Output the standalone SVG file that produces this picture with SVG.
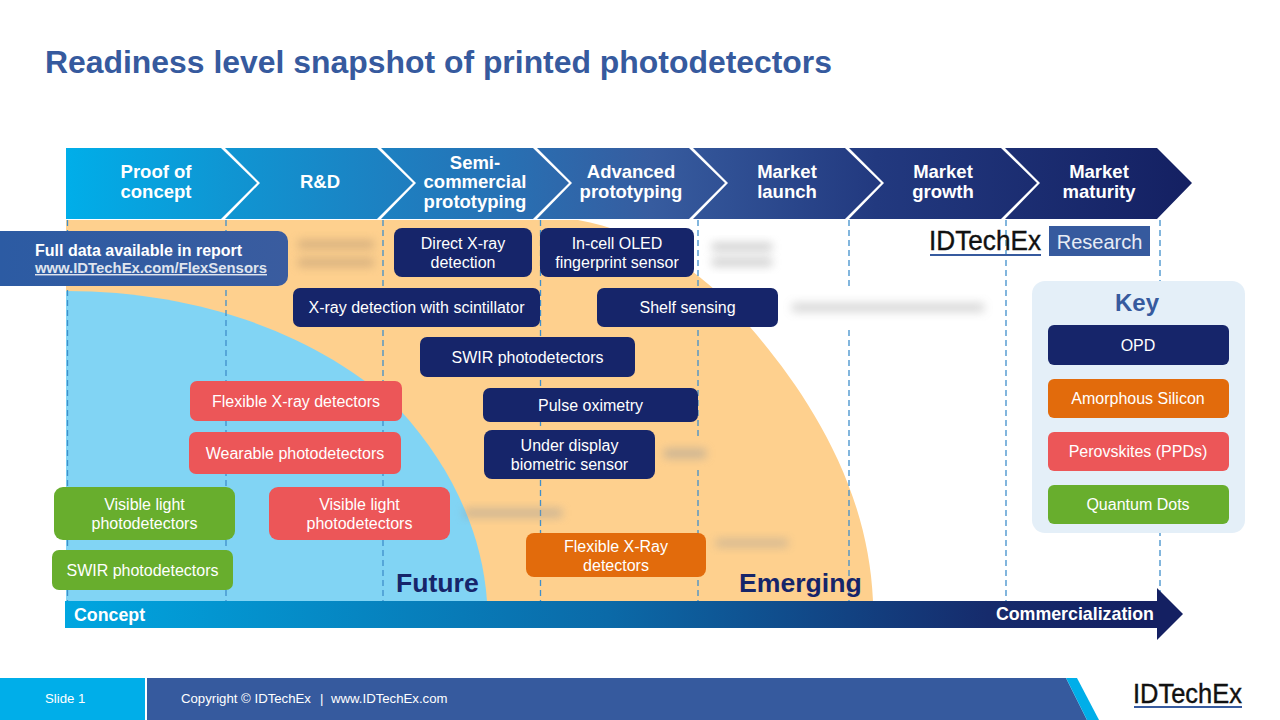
<svg xmlns="http://www.w3.org/2000/svg" width="1280" height="720" viewBox="0 0 1280 720">
<style>
text{font-family:"Liberation Sans",Arial,sans-serif;}
.st{font-size:18.5px;font-weight:700;fill:#fff;text-anchor:middle}
.n{font-size:16px;fill:#fff;text-anchor:middle}
.opd{fill:#16256a}.red{fill:#ec5658}.grn{fill:#68ae2d}.org{fill:#e26b0c}
.dash{stroke:#3f8fcb;stroke-width:1.3;stroke-dasharray:6 4;fill:none}
.blot{fill:#9a9a9a;filter:url(#b)}
.blotw{fill:#c9a67a;filter:url(#b)}
</style>
<defs>
<linearGradient id="g" gradientUnits="userSpaceOnUse" x1="66" y1="0" x2="1192" y2="0"><stop offset="0" stop-color="#00aee9"/><stop offset="0.14" stop-color="#0f96d3"/><stop offset="0.36" stop-color="#2475b8"/><stop offset="0.52" stop-color="#375c9f"/><stop offset="0.72" stop-color="#22397f"/><stop offset="1" stop-color="#142062"/></linearGradient>
<linearGradient id="ga" gradientUnits="userSpaceOnUse" x1="65" y1="0" x2="1150" y2="0"><stop offset="0" stop-color="#00a6e0"/><stop offset="0.5" stop-color="#0b6aa8"/><stop offset="0.85" stop-color="#162b6c"/><stop offset="1" stop-color="#142062"/></linearGradient>
<linearGradient id="gb" x1="0" y1="0" x2="1" y2="0"><stop offset="0" stop-color="#2c5ba3"/><stop offset="1" stop-color="#3a5c9f"/></linearGradient>
<filter id="b" x="-30%" y="-100%" width="160%" height="300%"><feGaussianBlur stdDeviation="5"/></filter>
</defs>
<rect width="1280" height="720" fill="#fff"/>
<text x="45" y="73" font-size="32" font-weight="700" fill="#365a9e" textLength="787" lengthAdjust="spacingAndGlyphs">Readiness level snapshot of printed photodetectors</text>

<g id="regions">
<path d="M66 220H578C645 232 705 272 750 327C800 385 868 480 873 601H66Z" fill="#fed08e"/>
<path d="M66 291C200 291 320 335 400 410C450 465 482 530 487 601H66Z" fill="#81d4f4"/>
</g>

<g id="grid">
<path class="dash" d="M67.500 220V601M226 220V601M383 220V601M540.500 220V601M698 220V601M849 220V601M1006 220V601M1160 220V601"/>
</g>

<g id="blurred">
<rect x="703" y="228" width="80" height="50" fill="#fff" opacity=".9"/>
<rect x="782" y="288" width="214" height="38" fill="#fff"/>
<rect x="660" y="440" width="50" height="30" fill="#fed08e"/>
<rect class="blotw" x="298" y="240" width="76" height="9" opacity=".75"/>
<rect class="blotw" x="298" y="258" width="76" height="9" opacity=".75"/>
<rect class="blot" x="712" y="243" width="60" height="8" opacity=".5"/>
<rect class="blot" x="712" y="258" width="60" height="8" opacity=".5"/>
<rect class="blot" x="792" y="303" width="192" height="9" opacity=".4"/>
<rect class="blot" x="664" y="449" width="42" height="9" opacity=".55"/>
<rect class="blot" x="464" y="509" width="98" height="8" opacity=".55"/>
<rect class="blot" x="716" y="539" width="72" height="8" opacity=".45"/>
</g>

<g id="stages" fill="url(#g)">
<path d="M66 148H221L257 183L221 219H66Z"/>
<path d="M225 148H377L413 183L377 219H225L260 183Z"/>
<path d="M381 148H533L569 183L533 219H381L416 183Z"/>
<path d="M537 148H689L725 183L689 219H537L572 183Z"/>
<path d="M693 148H845L881 183L845 219H693L728 183Z"/>
<path d="M849 148H1001L1037 183L1001 219H849L884 183Z"/>
<path d="M1005 148H1157L1192 183L1157 219H1005L1040 183Z"/>
<text class="st"><tspan x="156" y="178">Proof of</tspan><tspan x="156" y="198">concept</tspan></text>
<text class="st" x="320" y="188">R&amp;D</text>
<text class="st"><tspan x="475" y="169">Semi-</tspan><tspan x="475" y="188">commercial</tspan><tspan x="475" y="208">prototyping</tspan></text>
<text class="st"><tspan x="631" y="178">Advanced</tspan><tspan x="631" y="198">prototyping</tspan></text>
<text class="st"><tspan x="787" y="178">Market</tspan><tspan x="787" y="198">launch</tspan></text>
<text class="st"><tspan x="943" y="178">Market</tspan><tspan x="943" y="198">growth</tspan></text>
<text class="st"><tspan x="1099" y="178">Market</tspan><tspan x="1099" y="198">maturity</tspan></text>
</g>

<g id="banner">
<path d="M0 231H278a10 10 0 0 1 10 10V276a10 10 0 0 1 -10 10H0Z" fill="url(#gb)"/>
<text x="35" y="256" font-size="16" font-weight="700" fill="#fff">Full data available in report</text>
<text x="35" y="273" font-size="14.300" font-weight="700" fill="#dfe4ee" text-decoration="underline" textLength="232" lengthAdjust="spacingAndGlyphs">www.IDTechEx.com/FlexSensors</text>
</g>

<g id="n-direct-xray"><rect class="opd" x="394" y="228" width="138" height="49" rx="8"/><text class="n"><tspan x="463" y="249">Direct X-ray</tspan><tspan x="463" y="268">detection</tspan></text></g>
<g id="n-incell"><rect class="opd" x="540" y="228" width="154" height="49" rx="8"/><text class="n"><tspan x="617" y="249">In-cell OLED</tspan><tspan x="617" y="268">fingerprint sensor</tspan></text></g>
<g id="n-scint"><rect class="opd" x="293" y="288" width="247" height="39" rx="7"/><text class="n" x="416.500" y="313">X-ray detection with scintillator</text></g>
<g id="n-shelf"><rect class="opd" x="597" y="288" width="181" height="39" rx="7"/><text class="n" x="687.500" y="313">Shelf sensing</text></g>
<g id="n-swir-opd"><rect class="opd" x="420" y="337" width="215" height="40" rx="7"/><text class="n" x="527.500" y="363">SWIR photodetectors</text></g>
<g id="n-pulse"><rect class="opd" x="483" y="388" width="215" height="34" rx="7"/><text class="n" x="590.500" y="411">Pulse oximetry</text></g>
<g id="n-under"><rect class="opd" x="484" y="430" width="171" height="49" rx="8"/><text class="n"><tspan x="569.500" y="451">Under display</tspan><tspan x="569.500" y="470">biometric sensor</tspan></text></g>
<g id="n-flex-xray-ppd"><rect class="red" x="190" y="381" width="212" height="40" rx="7"/><text class="n" x="296" y="407">Flexible X-ray detectors</text></g>
<g id="n-wearable"><rect class="red" x="189" y="432" width="212" height="42" rx="7"/><text class="n" x="295" y="459">Wearable photodetectors</text></g>
<g id="n-visible-qd"><rect class="grn" x="54" y="487" width="181" height="53" rx="9"/><text class="n"><tspan x="144.500" y="510">Visible light</tspan><tspan x="144.500" y="529">photodetectors</tspan></text></g>
<g id="n-swir-qd"><rect class="grn" x="52" y="550" width="181" height="40" rx="7"/><text class="n" x="142.500" y="576">SWIR photodetectors</text></g>
<g id="n-visible-ppd"><rect class="red" x="269" y="487" width="181" height="53" rx="9"/><text class="n"><tspan x="359.500" y="510">Visible light</tspan><tspan x="359.500" y="529">photodetectors</tspan></text></g>
<g id="n-flex-xray-asi"><rect class="org" x="526" y="533" width="180" height="44" rx="8"/><text class="n"><tspan x="616" y="552">Flexible X-Ray</tspan><tspan x="616" y="571">detectors</tspan></text></g>

<g id="future"><text x="396" y="592" font-size="26.600" font-weight="700" fill="#16256a">Future</text></g>
<g id="emerging"><text x="739" y="592" font-size="26.600" font-weight="700" fill="#16256a">Emerging</text></g>

<g id="axis">
<path d="M65 601H1157V588L1183 614L1157 640V628H65Z" fill="url(#ga)"/>
<text x="74" y="621" font-size="17.800" font-weight="700" fill="#fff">Concept</text>
<text x="1154" y="620" font-size="17.800" font-weight="700" fill="#fff" text-anchor="end">Commercialization</text>
</g>

<g id="logo-research">
<text x="929" y="250" font-size="28.500" fill="#111" stroke="#111" stroke-width=".4" textLength="112" lengthAdjust="spacingAndGlyphs">IDTechEx</text>
<rect x="930" y="254" width="111" height="2" fill="#365a9e"/>
<rect x="1049" y="226" width="101" height="30" fill="#365a9e"/>
<text x="1099.500" y="249" font-size="20" fill="#e8ecf5" text-anchor="middle">Research</text>
</g>

<g id="key">
<rect x="1032" y="281" width="213" height="252" rx="13" fill="#e4eff8"/>
<text x="1137" y="311" font-size="24" font-weight="700" fill="#365a9e" text-anchor="middle">Key</text>
<g id="key-opd"><rect class="opd" x="1048" y="325" width="181" height="40" rx="6"/><text class="n" x="1138" y="351">OPD</text></g>
<g id="key-asi"><rect class="org" x="1048" y="379" width="181" height="39" rx="6"/><text class="n" x="1138" y="404">Amorphous Silicon</text></g>
<g id="key-ppd"><rect class="red" x="1048" y="432" width="181" height="39" rx="6"/><text class="n" x="1138" y="457">Perovskites (PPDs)</text></g>
<g id="key-qd"><rect class="grn" x="1048" y="485" width="181" height="39" rx="6"/><text class="n" x="1138" y="510">Quantum Dots</text></g>
</g>

<g id="footer">
<rect x="0" y="678" width="145" height="42" fill="#00aee9"/>
<path d="M147 678H1066L1087 720H147Z" fill="#365a9e"/>
<path d="M1066 678H1077L1099 720H1087Z" fill="#00aee9"/>
<text x="45" y="703" font-size="13.200" fill="#fff">Slide 1</text>
<text x="181" y="703" font-size="13.200" fill="#fff">Copyright © IDTechEx</text>
<text x="320" y="703" font-size="13.200" fill="#fff">|</text>
<text x="331" y="703" font-size="13.200" fill="#fff">www.IDTechEx.com</text>
<text x="1133" y="703" font-size="27" fill="#111" stroke="#111" stroke-width=".4" textLength="109" lengthAdjust="spacingAndGlyphs">IDTechEx</text>
<rect x="1134" y="706" width="108" height="2" fill="#365a9e"/>
</g>
</svg>
